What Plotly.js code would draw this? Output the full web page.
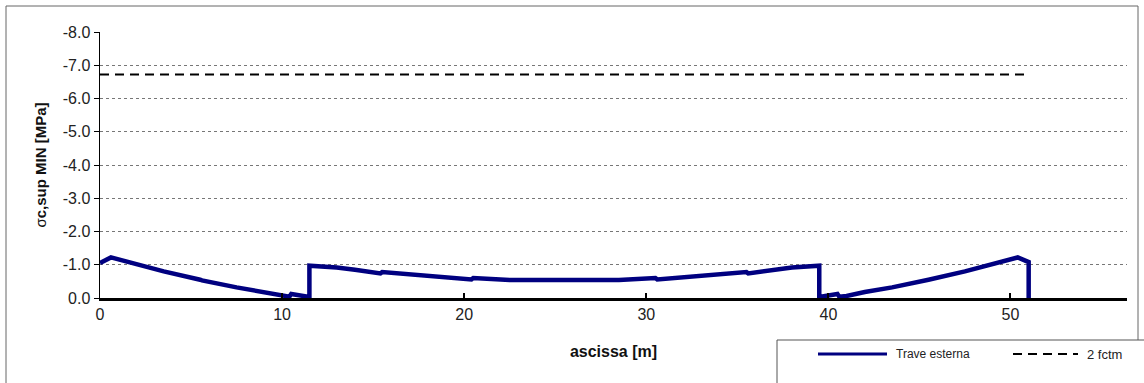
<!DOCTYPE html>
<html>
<head>
<meta charset="utf-8">
<script src="https://cdn.plot.ly/plotly-3.0.1.min.js"></script>
<style>html,body{margin:0;padding:0;background:#fff;}#chart{width:1144px;height:383px;}</style>
</head>
<body>
<div id="chart"></div>
<script>
// Data
const abscissa = [0, 0.6, 2, 3.5, 5.5, 5.6, 7.5, 9, 10, 10.4, 10.5, 11.5, 11.5, 13, 14, 15.4, 15.5, 20.4, 20.5, 22.5, 28.5, 30.5, 30.6, 35.5, 35.6, 37, 38, 39.5, 39.5, 40.5, 40.6, 41, 42, 43.5, 45.4, 45.5, 47.5, 49, 50.4, 51, 51];
const traveEsterna = [-1.05, -1.22, -1.02, -0.8, -0.55, -0.53, -0.32, -0.18, -0.06, -0.04, -0.12, -0.03, -0.97, -0.92, -0.85, -0.74, -0.78, -0.56, -0.6, -0.54, -0.54, -0.6, -0.56, -0.78, -0.74, -0.85, -0.92, -0.97, -0.03, -0.12, -0.04, -0.06, -0.18, -0.32, -0.53, -0.55, -0.8, -1.02, -1.22, -1.08, 0];
const fctmX = [0, 51];
const fctmY = [-6.72, -6.72];
const yTickVals = [0, -1, -2, -3, -4, -5, -6, -7, -8];
const yTickText = ["0.0", "-1.0", "-2.0", "-3.0", "-4.0", "-5.0", "-6.0", "-7.0", "-8.0"];
const xTickVals = [0, 10, 20, 30, 40, 50];
const names = ["Trave esterna", "2 fctm"];

const L = 100, R = 1127, T = 32, B = 298;
const px = v => (v - L) / (R - L);
const py = v => (B - v) / (B - T);

const traces = [
  {x: abscissa, y: traveEsterna, mode: 'lines', name: names[0],
   line: {color: '#000080', width: 4.5}, cliponaxis: false},
  {x: fctmX, y: fctmY, mode: 'lines', name: names[1],
   line: {color: '#000000', width: 2, dash: '9px,6px'}}
];

const layout = {
  width: 1144, height: 383,
  margin: {l: L, r: 1144 - R, t: T, b: 383 - B},
  paper_bgcolor: '#ffffff', plot_bgcolor: '#ffffff',
  showlegend: false,
  font: {family: 'Liberation Sans, Arial, sans-serif', size: 13, color: '#000'},
  xaxis: {
    range: [0, 56.4], autorange: false,
    tickvals: xTickVals, ticks: 'inside', ticklen: 5, tickwidth: 2, tickcolor: '#000',
    showgrid: false, zeroline: false,
    showline: true, linecolor: '#000', linewidth: 3,
    tickfont: {size: 16, color: '#222'},
    title: {text: '<b>ascissa [m]</b>', font: {size: 16, color: '#111'}, standoff: 24}
  },
  yaxis: {
    range: [0, -8], autorange: false,
    tickvals: yTickVals, ticktext: yTickText,
    ticks: 'outside', ticklen: 5, tickcolor: '#000',
    showgrid: true, gridcolor: '#777', griddash: 'dot', gridwidth: 1,
    zeroline: false,
    showline: true, linecolor: '#000', linewidth: 1.5,
    tickfont: {size: 16, color: '#222'},
    title: {text: 'σ<b>c,sup MIN [MPa]</b>', font: {size: 15, color: '#111'}, standoff: 12}
  },
  shapes: [
    // outer chart frame
    {type: 'rect', xref: 'paper', yref: 'paper', x0: px(6), x1: px(1138), y0: py(400), y1: py(6),
     line: {color: '#666', width: 1}, fillcolor: 'rgba(0,0,0,0)', layer: 'below'},
    // legend box
    {type: 'rect', xref: 'paper', yref: 'paper', x0: px(777), x1: px(1160), y0: py(400), y1: py(340),
     line: {color: '#555', width: 1}, fillcolor: '#fff'},
    // legend samples
    {type: 'line', xref: 'paper', yref: 'paper', x0: px(818), x1: px(887), y0: py(354), y1: py(354),
     line: {color: '#000080', width: 3}},
    {type: 'line', xref: 'paper', yref: 'paper', x0: px(1013), x1: px(1078), y0: py(354), y1: py(354),
     line: {color: '#000', width: 2, dash: '9px,6px'}}
  ],
  annotations: [
    {xref: 'paper', yref: 'paper', x: px(894), y: py(354), xanchor: 'left', yanchor: 'middle',
     text: names[0], showarrow: false, font: {size: 12, color: '#222'}},
    {xref: 'paper', yref: 'paper', x: px(1085), y: py(354), xanchor: 'left', yanchor: 'middle',
     text: names[1], showarrow: false, font: {size: 13, color: '#222'}}
  ]
};

Plotly.newPlot('chart', traces, layout, {displayModeBar: false, staticPlot: true});
</script>
</body>
</html>
